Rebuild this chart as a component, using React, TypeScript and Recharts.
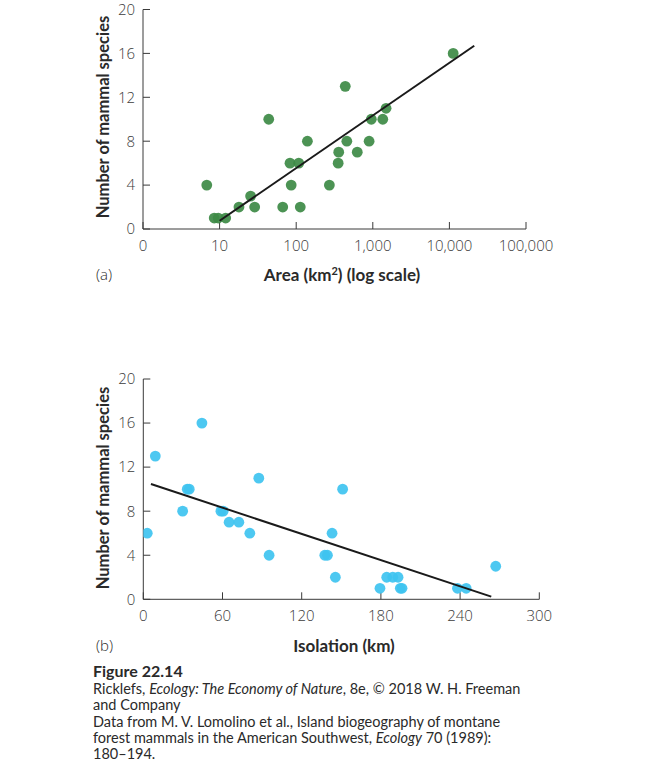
import React from "react";
import { ScatterChart, Scatter, XAxis, YAxis } from "recharts";

// Panel (a): species richness vs. mountain area (km², log scale)
const areaKm2 = [6.8, 8.5, 9.6, 12, 17.9, 25.4, 28.7, 43.8, 66.7, 83, 86, 108, 113, 140, 271, 353, 359, 437, 458, 627, 895, 957, 1350, 1490, 11200];
const areaSpecies = [4, 1, 1, 1, 2, 3, 2, 10, 2, 6, 4, 6, 2, 8, 4, 6, 7, 13, 8, 7, 8, 10, 10, 11, 16];
const areaFitX = [10, 21100];
const areaFitY = [0.75, 16.7];
const areaTicks = [1, 10, 100, 1000, 10000, 100000];

// Panel (b): species richness vs. isolation (km)
const isolationKm = [3, 9.1, 29.8, 33.3, 34.8, 44.4, 58.8, 60.5, 65, 72.4, 80.7, 87.5, 95.3, 137.5, 139.5, 143, 145.5, 151, 179.3, 184.4, 189, 193, 194.7, 196, 238, 244.6, 267];
const isolationSpecies = [6, 13, 8, 10, 10, 16, 8, 8, 7, 7, 6, 11, 4, 4, 4, 6, 2, 10, 1, 2, 2, 2, 1, 1, 1, 1, 3];
const isolationFitX = [5.8, 263.6];
const isolationFitY = [10.47, 0.24];
const isolationTicks = [0, 60, 120, 180, 240, 300];

const speciesTicks = [0, 4, 8, 12, 16, 20];

const GREEN = "#3d8a45";
const CYAN = "#3ec3f0";
const AXIS = "#3a3a3a";
const TICK_FONT = { fontFamily: "Open Sans", fontSize: 15, fill: "#3c3c3c", fontWeight: 300 };

const zip = (xs: number[], ys: number[]) => xs.map((x, i) => ({ x, y: ys[i] }));

const areaPoints = zip(areaKm2, areaSpecies);
const areaFit = zip(areaFitX, areaFitY);
const isolationPoints = zip(isolationKm, isolationSpecies);
const isolationFit = zip(isolationFitX, isolationFitY);

const formatArea = (v: number) => (v === 1 ? "0" : v.toLocaleString("en-US"));

const makeDot = (color: string) => (props: any) => (
  <circle cx={props.cx} cy={props.cy} r={5.4} fill={color} fillOpacity={0.92} />
);
const NoDot = () => <g />;

const titleStyle: React.CSSProperties = {
  position: "absolute",
  fontFamily: "Lato",
  fontWeight: 700,
  color: "#2a2a2a",
  whiteSpace: "nowrap",
};

const panelTag: React.CSSProperties = {
  position: "absolute",
  fontFamily: "Open Sans",
  fontWeight: 300,
  fontSize: 15,
  color: "#2a2a2a",
  whiteSpace: "nowrap",
  transform: "translateY(-50%)",
};

export default function App() {
  return (
    <div
      style={{
        position: "absolute",
        left: 0,
        top: 0,
        width: 650,
        height: 779,
        background: "#fff",
        overflow: "hidden",
      }}
    >
      {/* (a) Area */}
      <div style={{ position: "absolute", left: 0, top: -10 }}>
        <ScatterChart width={650} height={300} margin={{ top: 19.5, right: 124, bottom: 21, left: 83 }}>
          <XAxis
            dataKey="x"
            type="number"
            scale="log"
            domain={[1, 100000]}
            ticks={areaTicks}
            allowDataOverflow
            tickFormatter={formatArea}
            height={40}
            stroke={AXIS}
            tickSize={-7}
            tickMargin={18}
            tick={TICK_FONT}
            interval={0}
          />
          <YAxis
            dataKey="y"
            type="number"
            domain={[0, 20]}
            ticks={speciesTicks}
            width={60}
            stroke={AXIS}
            tickSize={-7}
            tickMargin={15}
            tick={TICK_FONT}
            interval={0}
          />
          <Scatter data={areaPoints} fill={GREEN} shape={makeDot(GREEN)} isAnimationActive={false} />
          <Scatter
            data={areaFit}
            line={{ stroke: "#1a1a1a", strokeWidth: 2 }}
            shape={NoDot}
            isAnimationActive={false}
          />
        </ScatterChart>
      </div>
      <div style={{ ...titleStyle, fontSize: 16.5, left: 103, top: 117, transform: "translate(-50%, -50%) rotate(-90deg)" }}>
        Number of mammal species
      </div>
      <div style={{ ...titleStyle, fontSize: 17, left: 342, top: 274, transform: "translate(-50%, -50%)" }}>
        Area (km<sup style={{ fontSize: 11, verticalAlign: "6px", lineHeight: 0 }}>2</sup>) (log scale)
      </div>
      <div style={{ ...panelTag, left: 96, top: 274 }}>(a)</div>

      {/* (b) Isolation */}
      <div style={{ position: "absolute", left: 0, top: 360 }}>
        <ScatterChart width={650} height={300} margin={{ top: 19, right: 110.7, bottom: 20.7, left: 83.3 }}>
          <XAxis
            dataKey="x"
            type="number"
            domain={[0, 300]}
            ticks={isolationTicks}
            allowDataOverflow
            height={40}
            stroke={AXIS}
            tickSize={-7}
            tickMargin={18}
            tick={TICK_FONT}
            interval={0}
          />
          <YAxis
            dataKey="y"
            type="number"
            domain={[0, 20]}
            ticks={speciesTicks}
            width={60}
            stroke={AXIS}
            tickSize={-7}
            tickMargin={15}
            tick={TICK_FONT}
            interval={0}
          />
          <Scatter data={isolationPoints} fill={CYAN} shape={makeDot(CYAN)} isAnimationActive={false} />
          <Scatter
            data={isolationFit}
            line={{ stroke: "#1a1a1a", strokeWidth: 2 }}
            shape={NoDot}
            isAnimationActive={false}
          />
        </ScatterChart>
      </div>
      <div style={{ ...titleStyle, fontSize: 16.5, left: 103, top: 488, transform: "translate(-50%, -50%) rotate(-90deg)" }}>
        Number of mammal species
      </div>
      <div style={{ ...titleStyle, fontSize: 17, left: 344, top: 645, transform: "translate(-50%, -50%)" }}>
        Isolation (km)
      </div>
      <div style={{ ...panelTag, left: 96, top: 645 }}>(b)</div>

      {/* Caption */}
      <div
        style={{
          position: "absolute",
          left: 93,
          top: 661,
          width: 550,
          fontFamily: "Lato",
          fontSize: 14.5,
          lineHeight: "16.3px",
          color: "#2a2a2a",
        }}
      >
        <div style={{ fontWeight: 700, fontSize: 16, lineHeight: "19px", marginBottom: 1 }}>Figure 22.14</div>
        <div>
          Ricklefs, <i>Ecology: The Economy of Nature</i>, 8e, © 2018 W. H. Freeman
        </div>
        <div>and Company</div>
        <div>Data from M. V. Lomolino et al., Island biogeography of montane</div>
        <div>
          forest mammals in the American Southwest, <i>Ecology</i> 70 (1989):
        </div>
        <div>180–194.</div>
      </div>
    </div>
  );
}
